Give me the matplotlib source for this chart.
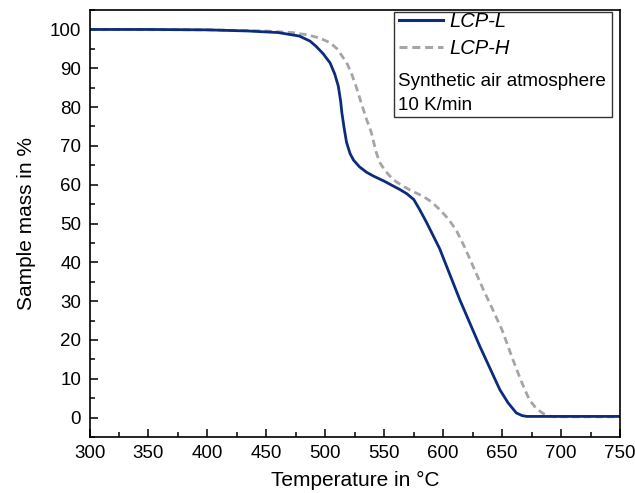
import matplotlib
matplotlib.use("Agg")
import matplotlib.pyplot as plt
from matplotlib.lines import Line2D
from matplotlib.patches import Rectangle
from matplotlib.ticker import MultipleLocator

plt.rcParams['font.family'] = ['Liberation Sans', 'DejaVu Sans']

# Data
temp_L = [300, 350, 400, 435, 460, 478, 487, 492, 498, 504, 508, 511, 513, 514, 516,
          518, 521, 524, 529, 535, 541, 550, 558, 563, 569, 575, 580, 586, 597, 614,
          631, 648, 655, 662, 667, 671, 680, 750]
mass_L = [100.0, 100.0, 99.9, 99.6, 99.2, 98.3, 97.0, 95.7, 93.8, 91.4, 88.5, 85.4, 81.5,
          78.6, 74.5, 70.9, 68.0, 66.3, 64.6, 63.2, 62.2, 60.9, 59.6, 58.8, 57.7, 56.2,
          53.6, 50.2, 43.5, 30.4, 18.4, 7.2, 3.8, 1.2, 0.5, 0.3, 0.3, 0.3]

temp_H = [300, 400, 450, 472, 485, 495, 504, 510, 515, 518, 522, 526, 530, 535, 539,
          543, 546, 549, 553, 558, 565, 572, 583, 590, 597, 604, 611, 618, 625, 634,
          642, 650, 659, 666, 673, 679, 685, 690, 695, 750]
mass_H = [100.0, 99.9, 99.6, 99.2, 98.6, 97.8, 96.6, 95.0, 92.8, 91.5, 88.8, 85.4, 81.5,
          76.8, 73.5, 68.5, 65.8, 64.4, 62.8, 61.2, 59.8, 58.6, 57.0, 55.6, 53.6, 51.3,
          48.3, 44.0, 39.2, 33.0, 27.8, 22.5, 15.0, 9.5, 4.6, 2.3, 1.0, 0.4, 0.2, 0.2]

labels = ['LCP-L', 'LCP-H']
notes = ['Synthetic air atmosphere', '10 K/min']
x_ticks = [300, 350, 400, 450, 500, 550, 600, 650, 700, 750]
y_ticks = [0, 10, 20, 30, 40, 50, 60, 70, 80, 90, 100]

navy = '#0b2c7a'
gray = '#a5a5a5'

fig = plt.figure(figsize=(6.35, 4.93), dpi=100)
ax = fig.add_axes([0.141, 0.1136, 0.8355, 0.866])

ax.plot(temp_H, mass_H, color=gray, lw=2.0, ls=(0, (2.6, 1.6)))
ax.plot(temp_L, mass_L, color=navy, lw=2.0)

ax.set_xlim(300, 750)
ax.set_ylim(-5, 105)
ax.set_xticks(x_ticks)
ax.set_yticks(y_ticks)
ax.xaxis.set_minor_locator(MultipleLocator(25))
ax.yaxis.set_minor_locator(MultipleLocator(5))
ax.tick_params(which='major', direction='in', length=6, width=1.1, labelsize=13.5,
               top=False, right=False, pad=6)
ax.tick_params(which='minor', direction='in', length=3.5, width=1.1,
               top=False, right=False)
for s in ax.spines.values():
    s.set_linewidth(1.2)

ax.set_xlabel('Temperature in °C', fontsize=15, labelpad=6)
ax.set_ylabel('Sample mass in %', fontsize=15, labelpad=10)

handles = [Line2D([], [], color=navy, lw=2.2),
           Line2D([], [], color=gray, lw=2.2, ls=(0, (2.6, 1.6)))]
leg = ax.legend(handles, labels, loc='upper left', bbox_to_anchor=(0.571, 1.01),
                frameon=False, fontsize=14.5, handlelength=2.2, handletextpad=0.35,
                labelspacing=0.4, borderaxespad=0.0, borderpad=0.3)
for t in leg.get_texts():
    t.set_fontstyle('italic')

ax.add_patch(Rectangle((0.574, 0.749), 0.411, 0.246, transform=ax.transAxes,
                       fill=False, edgecolor='#333333', lw=1.0, zorder=5))
ax.text(0.581, 0.822, notes[0], transform=ax.transAxes, fontsize=13.6, va='baseline', ha='left')
ax.text(0.581, 0.766, notes[1], transform=ax.transAxes, fontsize=13.6, va='baseline', ha='left')

fig.savefig('out.png', dpi=100)
